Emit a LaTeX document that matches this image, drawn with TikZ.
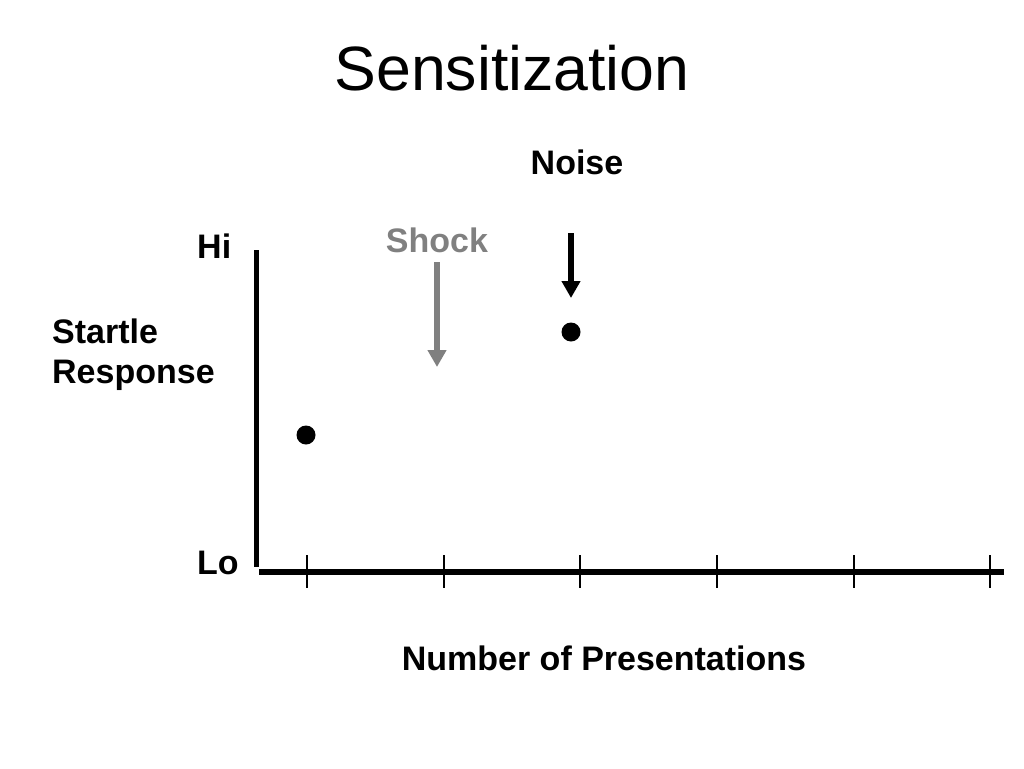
\documentclass[tikz,border=0pt]{standalone}
\usepackage{fontspec}
\setmainfont{Liberation Sans}
\usetikzlibrary{arrows.meta}
\definecolor{shockgray}{RGB}{128,128,128}
\tikzset{
  lbl/.style={font=\fontsize{34}{40}\selectfont\bfseries, inner sep=0pt},
  axisline/.style={line width=5.5pt},
  tickline/.style={line width=1.6pt},
  dot/.style={circle, fill=black, inner sep=0pt, minimum size=19pt},
  marker/.style={line width=5.5pt, -{Triangle[width=18pt,length=17pt]}}
}
\begin{document}
\begin{tikzpicture}[x=1pt,y=-1pt]
\useasboundingbox (0,0) rectangle (1024,768);
% title
\node[inner sep=0pt, anchor=base, font=\fontsize{62.6}{70}\selectfont] (title) at (512,90) {Sensitization};
% labels
\node[lbl, anchor=base] (noise) at (577,174) {Noise};
\node[lbl, anchor=base, text=shockgray] (shock) at (437,252) {Shock};
\node[lbl, anchor=base west] (hi) at (197,258) {Hi};
\node[lbl, anchor=base west] (lo) at (197,574) {Lo};
\node[lbl, anchor=base west, align=left] (startle) at (52,383) {Startle\\Response};
\node[lbl, anchor=base] (xlabel) at (604,670) {Number of Presentations};
% axes
\coordinate (ytop) at (256.5,250);
\coordinate (ybot) at (256.5,567);
\coordinate (xleft) at (259,572);
\coordinate (xright) at (1004,572);
\draw[axisline] (ytop) -- (ybot);
\draw[axisline] (xleft) -- (xright);
% ticks
\foreach \i/\x in {1/307,2/444,3/580,4/717,5/854,6/990}{
  \coordinate (t\i a) at (\x,555);
  \coordinate (t\i b) at (\x,588);
  \draw[tickline] (t\i a) -- (t\i b);
}
% data points
\node[dot] (p1) at (306,435) {};
\node[dot] (p2) at (571,332) {};
% arrows
\coordinate (shockstart) at (437,262);
\coordinate (shockend) at (437,367);
\draw[marker, draw=shockgray, fill=shockgray] (shockstart) -- (shockend);
\coordinate (noisestart) at (571,233);
\coordinate (noiseend) at (571,298);
\draw[marker] (noisestart) -- (noiseend);
\end{tikzpicture}
\end{document}
